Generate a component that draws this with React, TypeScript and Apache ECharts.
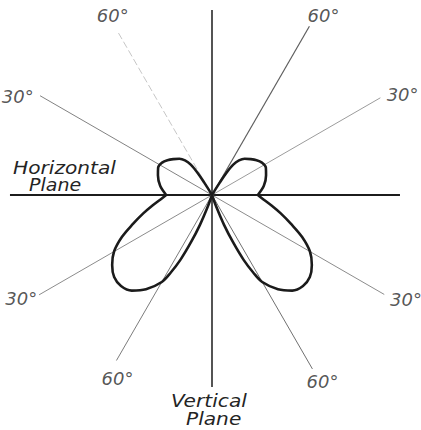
import React, { useEffect, useRef } from "react";
import * as echarts from "echarts";

// Directions of the reference rays, degrees counter-clockwise from the right-hand horizontal
const rayAngles = [0, 30, 60, 90, 120, 150, 180, 210, 240, 270, 300, 330];
// Reach of each ray (field-strength units, 100 = nominal ray length)
const rayLengths = [96.4, 99.7, 99.9, 94.9, 96.8, 101.8, 103.6, 102.4, 98, 98.5, 103, 102];

// Degree marks printed at the ends of the slanted rays
const markAngles = [30, 60, 120, 150, 210, 240, 300, 330];
const markTexts = ["30°", "60°", "60°", "30°", "30°", "60°", "60°", "30°"];

// Plane captions
const horizontalCaption = ["Horizontal", "Plane"];
const verticalCaption = ["Vertical", "Plane"];

// Small lobe above the horizontal (angle above horizontal -> relative field)
const upperAngles = [0, 10, 20, 27, 33, 38, 43, 48, 52, 55, 57, 58, 59, 60];
const upperLobe = [23.5, 27, 29.5, 31, 30.5, 29, 27, 25, 22.5, 19, 13.5, 7.5, 2.5, 0];

// Main lobe below the horizontal (angle below horizontal -> relative field)
const lowerAngles = [0, 5, 10, 15, 20, 25, 30, 35, 40, 45, 50, 55, 60, 62, 64, 66, 68, 70, 71];
const lowerLobe = [23.5, 26.5, 31, 36.5, 43, 51, 58, 62.5, 65.5, 66, 64, 59, 51.5, 45, 37, 26.5, 16.5, 6, 0];

// Styling for each ray, in the same order as rayAngles
const rayStyles = [
  { color: "#1c1c1c", width: 2 },
  { color: "#9c9c9c", width: 1 },
  { color: "#5e5e5e", width: 1.2 },
  { color: "#2a2a2a", width: 1.6 },
  { color: "#c6c6c6", width: 1, type: [7, 3] as number[] },
  { color: "#828282", width: 1 },
  { color: "#1c1c1c", width: 2 },
  { color: "#8c8c8c", width: 1 },
  { color: "#7c7c7c", width: 1 },
  { color: "#2a2a2a", width: 1.6 },
  { color: "#707070", width: 1 },
  { color: "#8c8c8c", width: 1 },
];

// Where each degree mark sits: radius and a small angular nudge
const markPlacement = [
  { r: 110.5, da: -2.2 },
  { r: 108.5, da: -1.8 },
  { r: 105, da: -1 },
  { r: 111.8, da: 3 },
  { r: 111.3, da: -1.5 },
  { r: 106, da: 2.8 },
  { r: 111.3, da: 0.6 },
  { r: 113, da: 1.7 },
];

const FONT = "'DejaVu Sans', 'Liberation Sans', sans-serif";
const INK = "#1b1b1b";

export default function App() {
  const ref = useRef<HTMLDivElement>(null);

  useEffect(() => {
    if (!ref.current) return;
    const chart = echarts.init(ref.current, undefined, { renderer: "svg" });

    const lobeLine = (data: number[][]) => ({
      type: "line",
      coordinateSystem: "polar",
      data,
      smooth: 0.35,
      symbol: "none",
      silent: true,
      z: 5,
      lineStyle: { color: INK, width: 2.6 },
    });

    const rightUpper = upperAngles.map((a, i) => [upperLobe[i], a]);
    const rightLower = lowerAngles.map((a, i) => [lowerLobe[i], 360 - a]);
    const leftUpper = upperAngles.map((a, i) => [upperLobe[i], 180 - a]);
    const leftLower = lowerAngles.map((a, i) => [lowerLobe[i], 180 + a]);

    const rays = rayAngles.map((a, i) => ({
      type: "line",
      coordinateSystem: "polar",
      data: [
        [0, a],
        [rayLengths[i], a],
      ],
      symbol: "none",
      silent: true,
      z: 2,
      lineStyle: {
        color: rayStyles[i].color,
        width: rayStyles[i].width,
        type: (rayStyles[i] as any).type || "solid",
      },
    }));

    const marks = {
      type: "scatter",
      coordinateSystem: "polar",
      symbolSize: 0,
      silent: true,
      z: 6,
      data: markAngles.map((a, i) => ({
        name: markTexts[i],
        value: [markPlacement[i].r, a + markPlacement[i].da],
      })),
      label: {
        show: true,
        position: "inside",
        formatter: "{b}",
        fontFamily: FONT,
        fontStyle: "italic",
        fontSize: 18,
        color: "#2a2a2a",
      },
    };

    const caption = (text: string, x: number, y: number, size: number) => ({
      type: "text",
      x,
      y,
      scaleX: 1.12,
      silent: true,
      style: {
        text,
        font: `italic ${size}px ${FONT}`,
        fill: "#242424",
        align: "left",
        verticalAlign: "middle",
      },
    });

    chart.setOption({
      animation: false,
      backgroundColor: "#ffffff",
      polar: { center: [212, 195], radius: 224.25 },
      angleAxis: {
        type: "value",
        min: 0,
        max: 360,
        startAngle: 0,
        clockwise: false,
        axisLine: { show: false },
        axisTick: { show: false },
        axisLabel: { show: false },
        splitLine: { show: false },
      },
      radiusAxis: {
        type: "value",
        min: 0,
        max: 115,
        axisLine: { show: false },
        axisTick: { show: false },
        axisLabel: { show: false },
        splitLine: { show: false },
      },
      graphic: [
        caption(horizontalCaption[0], 13, 167.5, 18),
        caption(horizontalCaption[1], 29, 185, 17),
        caption(verticalCaption[0], 171, 401, 18),
        caption(verticalCaption[1], 186, 419, 18),
      ],
      series: [
        ...rays,
        lobeLine(rightUpper),
        lobeLine(rightLower),
        lobeLine(leftUpper),
        lobeLine(leftLower),
        marks,
      ],
    });

    return () => chart.dispose();
  }, []);

  return (
    <div
      ref={ref}
      style={{ position: "fixed", left: 0, top: 0, width: 421, height: 430, background: "#fff" }}
    />
  );
}
